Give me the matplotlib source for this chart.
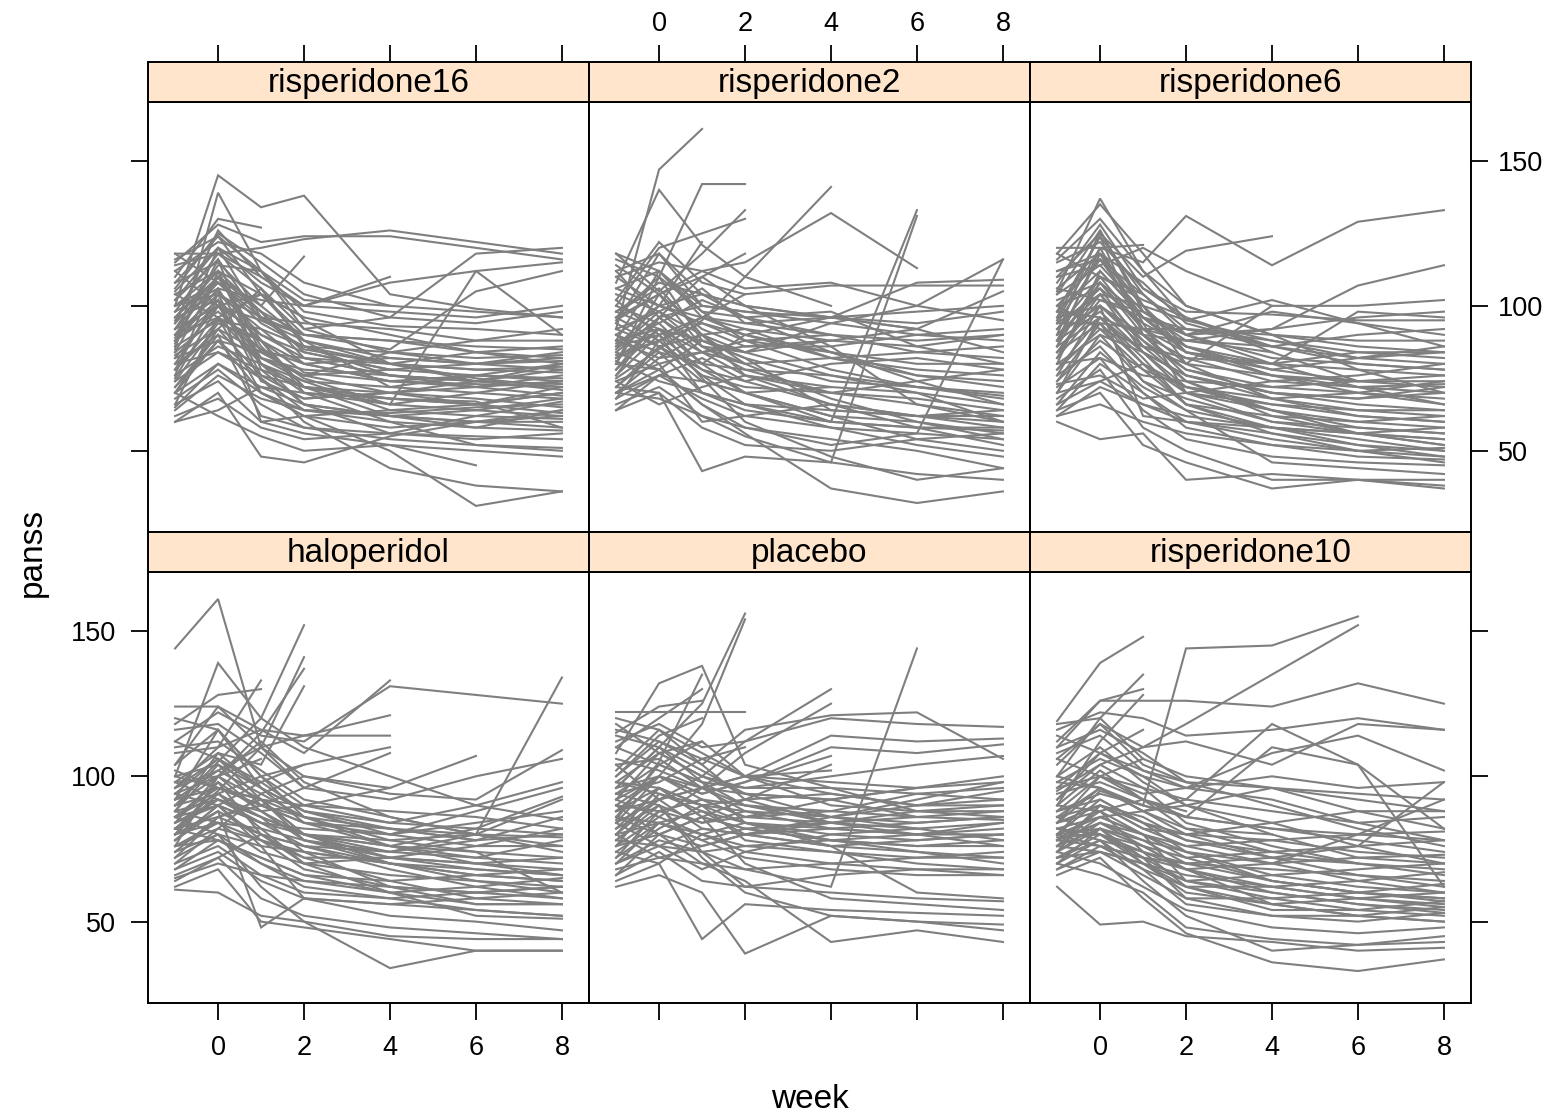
import numpy as np
import matplotlib.pyplot as plt

plt.rcParams['font.family'] = ['Liberation Sans', 'DejaVu Sans']

N = np.nan
weeks = [-1, 0, 1, 2, 4, 6, 8]

# panss per subject, columns follow `weeks`; nan = dropped out
risperidone16 = [
    [100, 145, 134, 138, 104, 99, 96], [85, 139, 112, 95, 80, 75, 72],
    [118, 118, 120, 123, 126, 122, 118], [115, 128, 122, 124, 124, 120, 116],
    [110, 130, 127, N, N, N, N], [90, 110, 100, 117, N, N, N],
    [105, 120, 108, 100, 110, N, N], [88, 100, 95, 90, 85, 105, 112],
    [78, 95, 85, 75, 66, 112, 90], [98, 118, 106, 92, 96, 118, 120],
    [72, 88, 75, 60, 44, 38, 36], [65, 80, 70, 62, 50, 31, 36],
    [60, 70, 48, 46, 55, 60, 62], [70, 62, 55, 50, 52, 45, N],
    [100, 112, 80, 72, 70, 68, 65], [95, 105, 90, 84, 78, 76, 74],
    [92, 108, 96, 85, 80, 78, 79], [88, 98, 85, 80, 82, 80, 81],
    [84, 96, 88, 77, 74, 73, 72], [80, 90, 82, 76, 78, 80, 84],
    [76, 86, 80, 70, 66, 64, 62], [74, 84, 75, 64, 60, 58, 57],
    [70, 80, 72, 66, 62, 60, 60], [68, 78, 66, 58, 56, 55, 54],
    [66, 74, 60, 56, 52, 50, 48], [62, 68, 58, 54, 56, 62, 67],
    [102, 120, 112, 98, 93, 92, 90], [106, 125, 115, 104, 96, 94, 98],
    [112, 122, 118, 108, 100, N, N], [108, 115, 100, 88, 82, 80, 78],
    [96, 102, 88, 80, 74, 76, 75], [90, 104, 76, 72, 68, 66, 70],
    [86, 95, 92, 86, 84, 82, 83], [82, 88, 70, 62, 58, 60, 64],
    [78, 92, 76, 68, 70, 72, 69], [94, 110, 98, 90, 88, 86, 85],
    [100, 108, 94, 86, 80, 78, 77], [104, 112, 104, 96, 90, 84, 80],
    [72, 90, 62, 58, 54, 52, 51], [64, 76, 68, 64, 63, 65, 66],
    [116, 124, 112, 102, 100, 98, 96], [98, 106, 102, 100, 98, 96, 100],
    [87, 116, 95, 88, 72, 70, 68], [75, 100, 82, 74, 64, 62, 61],
    [83, 92, 84, 76, 70, 66, 63], [92, 100, 90, 82, 76, 74, 73],
    [80, 84, 78, 72, 68, 67, 58], [114, 118, 110, 100, 108, 112, 115],
    [70, 88, 84, 82, 80, 84, 82], [89, 102, 60, 62, 64, 66, 72],
    [96, 110, 88, 70, 60, 52, 50], [104, 96, 80, 74, 72, 76, 80],
    [94, 126, 110, N, N, N, N], [86, 120, 96, 90, N, N, N],
    [76, 112, 98, 84, 78, N, N], [112, 100, 104, 96, N, N, N],
    [66, 96, 104, 88, 80, 74, N], [102, 116, 78, 66, 62, 60, 58],
    [90, 96, 70, 64, 62, 64, 68], [84, 110, 86, 72, 66, 70, 74],
    [78, 104, 92, 80, 74, 72, 76], [70, 92, 106, 86, 76, 74, 78],
    [96, 112, 84, 76, 84, 88, 92], [60, 64, 72, 70, 68, 66, 70],
    [118, 108, 98, 82, 76, 72, 74], [108, 124, 104, 90, 88, 84, 86],
    [82, 100, 80, 66, 56, 54, 56], [74, 94, 88, 72, 62, 58, 64],
    [92, 114, 112, 92, 84, 80, 82], [88, 106, 82, 78, 76, 74, 71],
    [100, 104, 96, 94, 92, 88, 88], [80, 102, 74, 68, 70, 74, 80],
]

risperidone2 = [
    [92, 147, 161, N, N, N, N], [108, 140, 121, 110, 100, N, N],
    [80, 110, 142, 142, N, N, N], [118, 105, 118, 133, N, N, N],
    [100, 120, 125, 130, N, N, N], [75, 85, 95, 110, 141, N, N],
    [96, 104, 112, 115, 132, 113, N], [70, 68, 62, 55, 46, 131, N],
    [86, 90, 78, 70, 60, 133, N], [110, 115, 112, 106, 108, 100, 116],
    [102, 122, 108, 104, 107, 107, 107], [90, 100, 96, 94, 96, 108, 109],
    [98, 108, 104, 100, 96, 92, 105], [84, 96, 100, 98, 96, 94, 98],
    [78, 92, 88, 84, 94, 100, 95], [88, 82, 84, 86, 88, 86, 90],
    [94, 86, 90, 92, 82, 78, 76], [72, 84, 80, 78, 76, 72, 69],
    [68, 76, 74, 70, 72, 70, 66], [82, 88, 76, 66, 64, 62, 62],
    [76, 90, 70, 64, 60, 58, 57], [104, 98, 90, 80, 68, 60, 54],
    [100, 94, 80, 70, 62, 54, 50], [66, 72, 62, 58, 54, 50, 44],
    [72, 70, 43, 48, 46, 42, 40], [80, 78, 66, 56, 37, 32, 36],
    [88, 92, 75, 60, 48, 40, 44], [112, 118, 104, 100, 96, 92, 84],
    [116, 110, 98, 96, 98, 86, 80], [95, 104, 92, 86, 86, 90, 92],
    [85, 98, 86, 80, 82, 84, 86], [90, 80, 60, 62, 66, 58, 52],
    [74, 80, 84, 88, 90, N, N], [64, 70, 58, 52, 50, 54, 56],
    [106, 112, 98, 88, 78, 72, 68], [92, 86, 78, 74, 80, 82, 78],
    [78, 96, 110, 100, 86, 66, 60], [70, 76, 68, 62, 58, 56, 54],
    [98, 92, 84, 76, 72, N, N], [87, 94, 102, 96, 84, 76, 72],
    [81, 74, 70, 66, 60, 58, 58], [114, 104, 110, 118, N, N, N],
    [96, 110, 88, 82, 64, 62, 64], [70, 78, 66, 58, 52, 56, 116],
    [83, 88, 94, 90, 96, 98, 100], [110, 100, 104, 96, 90, 84, 82],
    [86, 100, 122, N, N, N, N], [94, 118, 100, N, N, N, N],
    [76, 96, 84, 80, N, N, N], [102, 90, 96, 104, N, N, N],
    [68, 88, 96, 92, 88, N, N], [112, 96, 86, 84, 88, 92, N],
    [80, 104, 86, 78, 70, 66, 62], [92, 98, 106, 94, 90, 88, 90],
    [74, 66, 72, 76, 70, 68, 64], [84, 78, 88, 82, 74, 72, 70],
    [96, 88, 76, 72, 70, 74, 78], [106, 100, 94, 88, 84, 80, 80],
    [70, 82, 90, 84, 76, 70, 60], [88, 112, 96, 90, 82, 76, 74],
    [64, 76, 82, 74, 66, 62, 58], [118, 112, 100, 98, 94, 90, 88],
    [90, 84, 70, 66, 58, 52, 48], [82, 92, 80, 90, 84, 74, 66],
    [98, 106, 90, 76, 66, 62, 60], [72, 86, 74, 70, 62, 60, 56],
]

risperidone6 = [
    [105, 137, 112, 95, 88, 82, 80], [118, 135, 118, 100, 90, 86, 84],
    [95, 120, 115, 131, 114, 129, 133], [110, 125, 110, 119, 124, N, N],
    [120, 120, 121, N, N, N, N], [100, 116, 104, 90, 92, 107, 114],
    [86, 110, 92, 80, 100, 100, 102], [90, 126, 100, 86, 80, 98, 96],
    [115, 122, 106, 98, 97, 95, 95], [112, 118, 100, 95, 102, 94, 90],
    [102, 108, 92, 88, 86, 90, 92], [98, 112, 96, 84, 78, 82, 86],
    [94, 104, 88, 78, 72, 74, 76], [88, 98, 84, 76, 70, 68, 70],
    [84, 94, 80, 70, 66, 64, 62], [80, 90, 74, 68, 60, 58, 56],
    [76, 86, 70, 60, 56, 52, 48], [72, 82, 64, 54, 48, 46, 45],
    [68, 78, 58, 50, 40, 40, 38], [64, 70, 52, 46, 37, 40, 37],
    [60, 54, 56, 40, 42, 40, 40], [62, 66, 60, 56, 52, 50, 51],
    [70, 74, 66, 62, 58, 56, 54], [74, 88, 78, 72, 66, 62, 60],
    [82, 100, 86, 74, 62, 56, 58], [92, 106, 94, 86, 76, 70, 66],
    [96, 100, 90, 82, 74, 72, 73], [104, 114, 98, 90, 82, 80, 78],
    [108, 128, 106, 96, 84, 74, 72], [116, 130, 112, 100, 90, 78, 70],
    [78, 92, 86, 82, 80, 84, 84], [86, 96, 90, 88, 92, 96, 98],
    [90, 100, 62, 60, 58, 56, 52], [100, 92, 78, 66, 56, 50, 46],
    [66, 84, 72, 64, 46, 44, 42], [73, 76, 68, 70, 74, 76, 80],
    [80, 82, 76, 74, 72, 70, 68], [106, 102, 96, 92, 88, 84, 82],
    [84, 104, 100, 80, 68, 64, 64], [118, 110, 102, 96, 86, N, N],
    [98, 96, 84, 70, 64, 60, 58], [88, 108, 96, 90, 98, 94, 86],
    [70, 96, 82, 66, 58, 54, 50], [94, 94, 92, 92, 90, 88, 88],
    [64, 80, 70, 58, 52, 48, 47], [110, 114, 120, 112, 100, N, N],
    [96, 124, 104, N, N, N, N], [88, 118, 92, 84, N, N, N],
    [104, 126, 98, 88, 84, N, N], [80, 112, 96, 86, 78, 74, N],
    [92, 110, 104, 92, 86, 80, 78], [76, 100, 88, 74, 64, 58, 56],
    [86, 120, 94, 70, 60, 56, 54], [100, 106, 86, 80, 76, 72, 70],
    [70, 90, 84, 76, 68, 62, 60], [82, 108, 90, 76, 70, 68, 72],
    [112, 116, 96, 84, 80, 78, 76], [66, 74, 80, 72, 64, 56, 52],
    [94, 116, 100, 84, 76, 74, 74], [74, 94, 74, 64, 58, 52, 50],
    [106, 118, 108, 94, 86, 82, 84], [84, 102, 98, 90, 80, 72, 66],
    [98, 124, 90, 78, 70, 66, 64], [62, 72, 66, 60, 54, 50, 48],
    [90, 104, 84, 72, 68, 70, 74], [78, 96, 80, 66, 62, 60, 62],
]

haloperidol = [
    [144, 161, 110, 96, N, N, N], [100, 139, 120, 110, 100, 90, 85],
    [90, 105, 120, 152, N, N, N], [82, 95, 110, 141, N, N, N],
    [76, 100, 115, 137, N, N, N], [88, 108, 104, 131, N, N, N],
    [96, 110, 133, N, N, N, N], [118, 128, 130, N, N, N, N],
    [112, 122, 114, 112, 131, 128, 125], [104, 124, 116, 108, 133, N, N],
    [96, 102, 110, 114, 121, N, N], [108, 110, 116, 114, 114, N, N],
    [80, 94, 100, 104, 110, N, N], [72, 86, 90, 96, 108, N, N],
    [84, 92, 88, 90, 96, 107, N], [86, 90, 84, 80, 78, 80, 134],
    [124, 124, 110, 100, 94, 92, 109], [116, 118, 108, 96, 92, 100, 106],
    [100, 104, 96, 88, 84, 90, 98], [92, 96, 90, 84, 80, 88, 96],
    [88, 92, 86, 80, 76, 82, 93], [80, 84, 82, 78, 74, 80, 92],
    [78, 88, 80, 76, 74, 78, 86], [84, 90, 78, 72, 72, 76, 82],
    [98, 100, 92, 86, 82, 80, 79], [94, 106, 98, 88, 80, 76, 76],
    [76, 84, 74, 70, 72, 70, 72], [82, 78, 72, 66, 64, 66, 68],
    [74, 80, 70, 64, 60, 62, 65], [70, 76, 66, 60, 58, 60, 62],
    [68, 74, 64, 58, 56, 58, 60], [90, 94, 86, 74, 62, 56, 56],
    [86, 98, 80, 70, 60, 52, 51], [78, 90, 76, 58, 52, 50, 47],
    [72, 80, 62, 50, 45, 44, 44], [66, 72, 58, 52, 48, 46, 44],
    [61, 60, 52, 50, 34, 40, 40], [62, 68, 50, 48, 44, 40, 40],
    [80, 88, 48, 58, 56, 54, 52], [110, 112, 102, 92, 86, 80, 76],
    [102, 96, 92, 90, 88, 86, 82], [94, 100, 88, 80, 74, 72, 70],
    [88, 84, 78, 68, 62, 60, 58], [82, 86, 80, 72, 64, 58, 56],
    [76, 82, 78, 74, 70, N, N], [92, 102, 94, 86, 78, 74, 60],
    [86, 96, 92, 78, 70, 66, 64], [120, 116, 100, 86, 76, 70, 66],
    [65, 70, 66, 64, 62, 60, 62], [98, 108, 96, 84, 76, 72, 78],
    [84, 100, 106, N, N, N, N], [92, 116, 96, N, N, N, N],
    [78, 90, 98, 104, N, N, N], [100, 96, 90, 86, N, N, N],
    [70, 82, 94, 100, 96, N, N], [88, 104, 90, 84, 82, 78, N],
    [80, 98, 88, 78, 72, 70, 68], [94, 90, 84, 82, 80, 84, 88],
    [74, 86, 92, 80, 70, 64, 62], [86, 80, 76, 74, 70, 68, 66],
    [104, 116, 100, 90, 84, 82, 80], [68, 78, 72, 66, 60, 56, 56],
    [90, 100, 112, 98, 86, 80, 74], [82, 92, 84, 76, 68, 62, 58],
    [96, 106, 92, 80, 72, 68, 66], [76, 78, 70, 62, 58, 54, 52],
    [112, 106, 96, 88, 82, 78, 80], [64, 72, 80, 76, 70, 66, 64],
    [86, 94, 82, 70, 66, 64, 60], [98, 92, 86, 80, 76, 74, 72],
]

placebo = [
    [96, 110, 125, 156, N, N, N], [90, 100, 118, 154, N, N, N],
    [108, 132, 138, 104, 96, 88, 86], [85, 105, 135, N, N, N, N],
    [110, 120, 130, N, N, N, N], [115, 124, 126, N, N, N, N],
    [122, 122, 122, 122, N, N, N], [80, 92, 100, 112, 130, N, N],
    [76, 86, 96, 108, 125, N, N], [92, 100, 94, 98, 107, N, N],
    [88, 96, 90, 92, 104, N, N], [70, 78, 74, 68, 62, 144, N],
    [100, 112, 104, 116, 121, 122, 106], [112, 118, 110, 112, 120, 118, 117],
    [104, 106, 96, 100, 114, 112, 113], [96, 100, 94, 98, 110, 108, 111],
    [118, 108, 100, 96, 100, 104, 107], [90, 88, 84, 86, 92, 96, 98],
    [84, 92, 82, 80, 86, 90, 95], [80, 84, 78, 82, 84, 86, 88],
    [86, 80, 76, 80, 82, 84, 86], [78, 76, 74, 76, 78, 80, 84],
    [74, 70, 80, 84, 78, 76, 76], [72, 82, 90, 78, 74, 72, 72],
    [68, 72, 70, 68, 70, 68, 68], [66, 74, 64, 62, 66, 68, 66],
    [94, 90, 74, 62, 60, 58, 57], [98, 96, 86, 70, 58, 56, 54],
    [64, 70, 44, 56, 54, 53, 52], [62, 66, 60, 39, 52, 50, 49],
    [76, 80, 70, 64, 43, 47, 43], [82, 90, 72, 60, 52, 50, 47],
    [106, 102, 96, 90, 88, 86, 85], [102, 116, 104, 92, 84, 80, 80],
    [92, 108, 112, 100, 90, 88, 88], [88, 100, 96, 94, 92, 86, N],
    [78, 88, 92, 90, 84, N, N], [114, 110, 102, 94, 86, 82, 78],
    [120, 116, 108, 100, 98, 96, N], [84, 76, 68, 74, 80, 82, 84],
    [98, 94, 90, 88, 86, 92, 98], [70, 84, 78, 72, 68, 66, 66],
    [86, 84, 88, 84, 82, 80, 76], [80, 96, 86, 82, 78, 74, 72],
    [94, 104, 98, 84, 76, 60, 58],
    [86, 104, 112, N, N, N, N], [100, 114, 120, N, N, N, N],
    [94, 98, 106, 110, N, N, N], [78, 90, 84, 88, N, N, N],
    [104, 92, 96, 100, 102, N, N], [72, 88, 92, 86, 84, 82, N],
    [82, 96, 90, 84, 80, 78, 80], [90, 80, 86, 92, 94, 90, 92],
    [98, 108, 100, 94, 92, 96, 100], [74, 84, 80, 74, 70, 72, 74],
    [110, 104, 98, 96, 96, 94, 92], [66, 80, 86, 82, 78, 76, 78],
    [88, 92, 96, 88, 82, 80, 82], [80, 72, 76, 80, 84, 88, 90],
    [96, 110, 98, 90, 86, 84, 86], [70, 76, 82, 80, 76, 74, 70],
    [116, 112, 106, 100, 94, 90, 90], [84, 100, 92, 86, 88, 94, 96],
    [92, 86, 80, 76, 74, 70, 68], [76, 94, 88, 80, 76, 78, 80],
]

risperidone10 = [
    [119, 139, 148, N, N, N, N], [100, 120, 135, N, N, N, N],
    [110, 126, 130, N, N, N, N], [90, 112, 128, N, N, N, N],
    [80, 95, 90, 144, 145, 155, N], [95, 104, 110, 118, 135, 152, N],
    [112, 126, 126, 126, 124, 132, 125], [104, 118, 110, 112, 104, 118, 116],
    [116, 122, 120, 114, 116, 120, 116], [96, 108, 100, 96, 108, 114, 102],
    [88, 100, 94, 96, 100, 96, 98], [84, 96, 88, 90, 96, 94, 92],
    [76, 90, 82, 80, 84, 88, 88], [82, 86, 80, 76, 78, 80, 81],
    [78, 84, 76, 72, 74, 76, 78], [74, 82, 72, 68, 70, 72, 73],
    [72, 80, 70, 64, 66, 68, 70], [70, 78, 68, 62, 62, 64, 67],
    [76, 74, 66, 58, 58, 60, 63], [80, 82, 70, 60, 56, 58, 60],
    [84, 88, 74, 62, 54, 54, 57], [86, 80, 72, 58, 52, 52, 55],
    [78, 76, 68, 56, 52, 50, 53], [74, 70, 62, 54, 48, 46, 48],
    [70, 66, 60, 48, 44, 42, 43], [62, 49, 50, 45, 43, 40, 41],
    [66, 72, 58, 46, 36, 33, 37], [82, 78, 64, 52, 40, 42, 45],
    [118, 120, 106, 100, 96, 88, 82], [108, 114, 102, 96, 92, 84, 78],
    [100, 110, 98, 90, 84, 76, 70], [92, 104, 96, 84, 76, 70, 66],
    [98, 96, 90, 86, 110, 104, 62], [88, 92, 84, 78, 74, N, N],
    [94, 98, 92, 88, N, N, N], [76, 82, 78, 74, 70, 80, 92],
    [80, 76, 72, 70, 72, 76, 98], [86, 90, 84, 80, 78, 74, 72],
    [90, 88, 80, 74, 64, 60, 58], [72, 74, 70, 66, 62, 58, 56],
    [68, 76, 72, 64, 58, 54, 52], [114, 108, 102, 98, 96, 92, 88],
    [106, 100, 92, 86, 82, 78, 74], [80, 86, 88, 92, 118, 104, 82],
    [74, 84, 80, 64, 60, 56, 53], [79, 80, 76, 68, 56, 52, 50],
    [92, 108, 116, N, N, N, N], [84, 100, 106, N, N, N, N],
    [106, 118, 104, 98, N, N, N], [78, 88, 92, 86, N, N, N],
    [100, 96, 88, 82, 80, N, N], [74, 90, 86, 78, 72, 70, N],
    [86, 96, 88, 80, 72, 66, 62], [80, 92, 84, 74, 66, 62, 60],
    [90, 102, 92, 82, 74, 70, 68], [70, 82, 76, 68, 60, 56, 54],
    [96, 100, 96, 92, 88, 84, 86], [76, 86, 80, 72, 64, 60, 58],
    [82, 80, 74, 70, 68, 66, 64], [88, 94, 90, 86, 82, 80, 78],
    [72, 78, 74, 68, 62, 58, 55], [110, 116, 108, 98, 90, 82, 76],
    [84, 90, 82, 76, 70, 64, 60], [68, 74, 70, 62, 56, 52, 50],
    [98, 106, 100, 90, 80, 72, 70], [78, 84, 78, 70, 64, 60, 57],
]

panel_names = ["risperidone16", "risperidone2", "risperidone6",
               "haloperidol", "placebo", "risperidone10"]
panel_data = [risperidone16, risperidone2, risperidone6,
              haloperidol, placebo, risperidone10]
x_ticks = [0, 2, 4, 6, 8]
y_ticks = [50, 100, 150]

W, H = 1563, 1119
fig = plt.figure(figsize=(W / 100, H / 100), dpi=100)


def frac(x0, y0, x1, y1):
    # pixel box (top-left origin) -> figure fraction
    return [x0 / W, 1 - y1 / H, (x1 - x0) / W, (y1 - y0) / H]


col_x = [148, 589, 1030]
pw = 441
rows = [(62, 102, 532), (532, 572, 1003)]  # strip top, panel top, panel bottom
line_col = '#7f7f7f'
tick_kw = dict(direction='out', length=12.3, width=1.3, labelsize=19.5, pad=11)

for i, (name, data) in enumerate(zip(panel_names, panel_data)):
    r, c = divmod(i, 3)
    s_top, p_top, p_bot = rows[r]
    ax = fig.add_axes(frac(col_x[c], p_top, col_x[c] + pw, p_bot))
    sax = fig.add_axes(frac(col_x[c], s_top, col_x[c] + pw, p_top))

    for subj in data:
        ax.plot(weeks, subj, color=line_col, lw=1.5, solid_joinstyle='miter')

    ax.set_xlim(-1.63, 8.63)
    ax.set_ylim(22, 170.3)
    ax.set_xticks(x_ticks)
    ax.set_yticks(y_ticks)
    ax.tick_params(**tick_kw)
    ax.tick_params(axis='x', top=False, labeltop=False,
                   bottom=(r == 1), labelbottom=(r == 1 and c != 1))
    ax.tick_params(axis='y', left=(c == 0), labelleft=(c == 0 and r == 1),
                   right=(c == 2), labelright=(c == 2 and r == 0))
    if c == 2:
        ax.tick_params(axis='y', pad=7)
    for sp in ax.spines.values():
        sp.set_linewidth(1.4)

    sax.set_facecolor('#ffe5cc')
    sax.set_xlim(-1.63, 8.63)
    sax.set_yticks([])
    sax.set_xticks(x_ticks)
    sax.tick_params(**tick_kw)
    sax.tick_params(axis='x', bottom=False, labelbottom=False, pad=6,
                    top=(r == 0), labeltop=(r == 0 and c == 1))
    for sp in sax.spines.values():
        sp.set_linewidth(1.4)
    sax.text(0.5, 0.47, name, transform=sax.transAxes, ha='center',
             va='center', fontsize=24)

fig.text(32 / W, 1 - 552 / H, 'panss', rotation=90, ha='center',
         va='center', fontsize=24)
fig.text(810 / W, 1 - 1100 / H, 'week', ha='center', va='center',
         fontsize=24)

fig.savefig('out.png', dpi=100)
